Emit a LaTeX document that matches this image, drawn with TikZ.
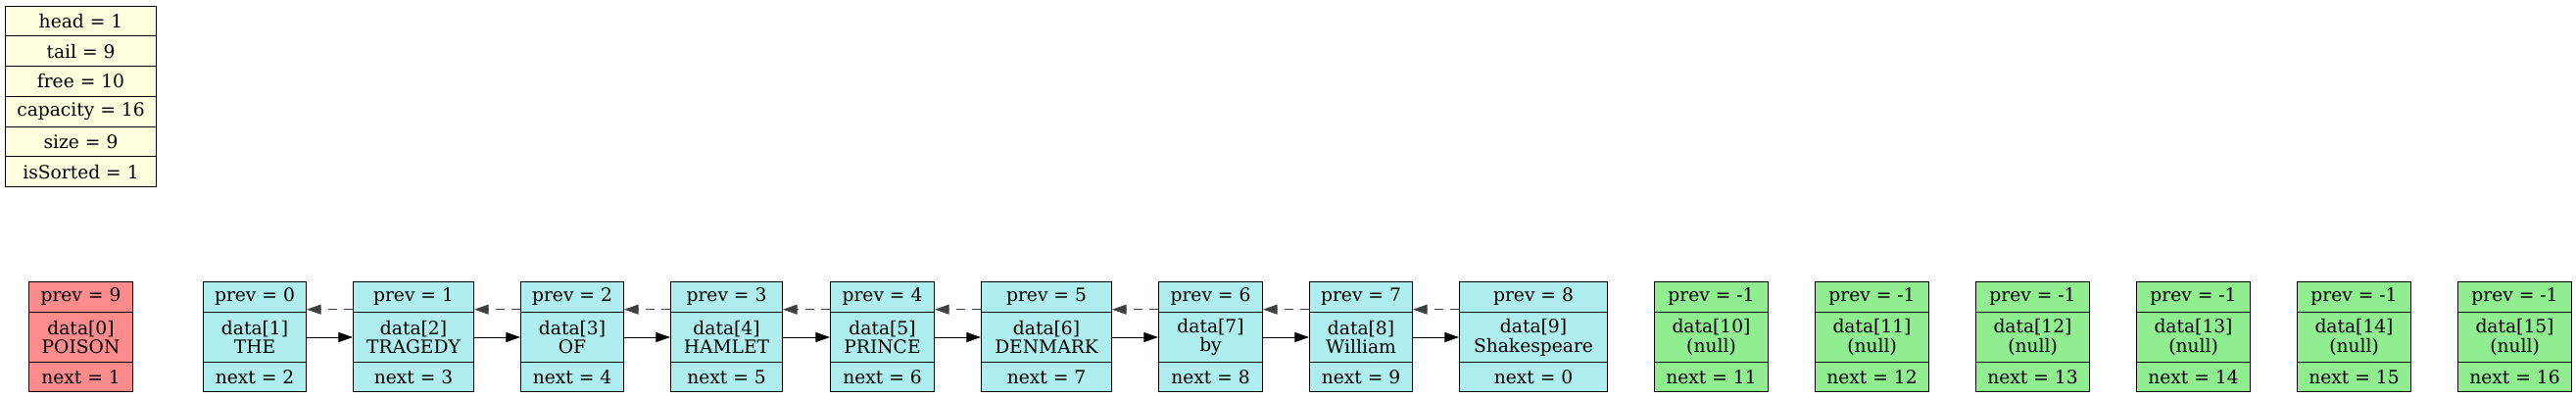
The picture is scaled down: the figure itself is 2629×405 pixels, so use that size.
\documentclass[tikz,border=0pt]{standalone}
\usepackage{fontspec}
\setmainfont{DejaVu Serif}
\usetikzlibrary{arrows.meta}

\definecolor{poisoncol}{RGB}{255,140,140}
\definecolor{usedcol}{RGB}{175,238,238}
\definecolor{freecol}{RGB}{144,238,144}
\definecolor{infocol}{RGB}{255,255,224}

\tikzset{
  cell/.style={draw=black, line width=0.75pt, inner sep=0pt, anchor=north west, align=center, font=\fontsize{14}{14.8}\selectfont},
  nextlink/.style={black, line width=0.75pt, -{Triangle[length=11pt,width=7.5pt]}},
  prevlink/.style={black!75, line width=0.75pt, dash pattern=on 7pt off 5pt, -{Triangle[length=11pt,width=7.5pt]}}
}

% one list element: name, left edge, width, fill, prev, data, next
\newcommand{\elem}[7]{%
  \node[cell, fill=#4, minimum width=#3*0.75pt, minimum height=31*0.75pt] (#1-p) at ({#2},287) {#5};
  \node[cell, fill=#4, minimum width=#3*0.75pt, minimum height=51*0.75pt] (#1-d) at ({#2},318) {#6};
  \node[cell, fill=#4, minimum width=#3*0.75pt, minimum height=30*0.75pt] (#1-n) at ({#2},369) {#7};
}

\begin{document}
\begin{tikzpicture}[x=0.75pt, y=-0.75pt]
\useasboundingbox (0,0) rectangle (2629,405);

% list header
\foreach \txt [count=\i from 0] in {head = 1, tail = 9, free = 10, capacity = 16, size = 9, isSorted = 1}
  \node[cell, fill=infocol, minimum width=154*0.75pt, minimum height=30.7*0.75pt] (h\i) at (5,{5.7+30.7*\i}) {\txt};

% elements
\elem{b0}{29}{106}{poisoncol}{prev = 9}{data[0]\\POISON}{next = 1}
\elem{b1}{207}{105}{usedcol}{prev = 0}{data[1]\\THE}{next = 2}
\elem{b2}{360}{123}{usedcol}{prev = 1}{data[2]\\TRAGEDY}{next = 3}
\elem{b3}{531}{105}{usedcol}{prev = 2}{data[3]\\OF}{next = 4}
\elem{b4}{684}{114}{usedcol}{prev = 3}{data[4]\\HAMLET}{next = 5}
\elem{b5}{847}{106}{usedcol}{prev = 4}{data[5]\\PRINCE}{next = 6}
\elem{b6}{1001}{133}{usedcol}{prev = 5}{data[6]\\DENMARK}{next = 7}
\elem{b7}{1182}{106}{usedcol}{prev = 6}{data[7]\\by}{next = 8}
\elem{b8}{1336}{105}{usedcol}{prev = 7}{data[8]\\William}{next = 9}
\elem{b9}{1489}{151}{usedcol}{prev = 8}{data[9]\\Shakespeare}{next = 0}
\foreach \k in {10,...,15} {
  \pgfmathtruncatemacro\nx{\k+1}
  \elem{b\k}{1688+164*(\k-10)}{116}{freecol}{prev = -1}{data[\k]\\(null)}{next = \nx}
}

% links
\foreach \i/\j in {1/2,2/3,3/4,4/5,5/6,6/7,7/8,8/9} {
  \draw[nextlink] (b\i-d.east) -- (b\j-d.west);
  \draw[prevlink] ([yshift=2.5pt]b\j-p.south west) -- ([yshift=2.5pt]b\i-p.south east);
}
\end{tikzpicture}
\end{document}
